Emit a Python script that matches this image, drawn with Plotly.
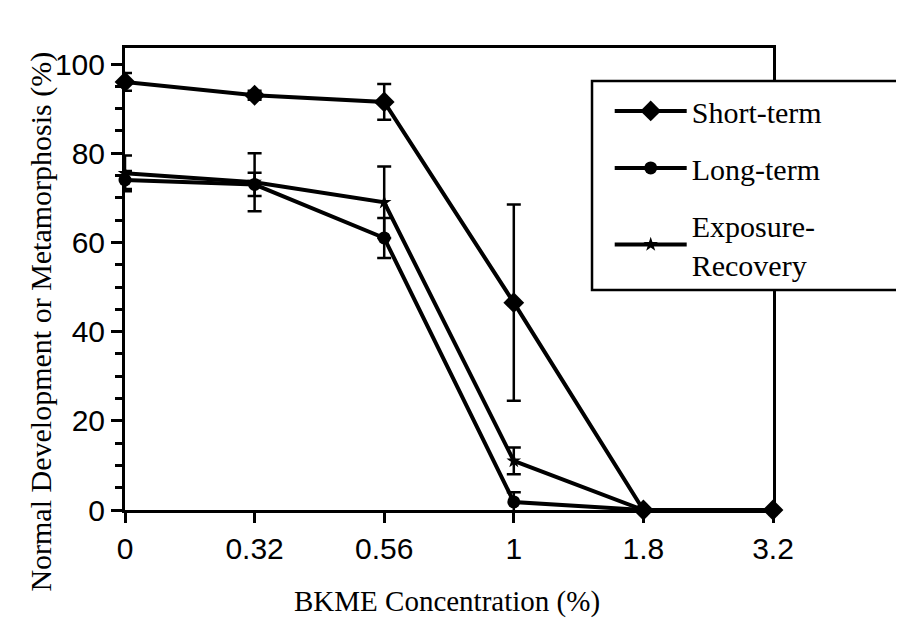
import plotly.graph_objects as go

concentrations = ["0", "0.32", "0.56", "1", "1.8", "3.2"]

short_term = [96, 93, 91.5, 46.5, 0, 0]
short_term_err = [2, 1, 4, 22, 0, 0]

long_term = [74, 73, 61, 1.8, 0, 0]
long_term_err = [2, 2.6, 4.5, 2.2, 0, 0]

exposure_recovery = [75.5, 73.5, 69, 11, 0, 0]
exposure_recovery_err = [4, 6.5, 8, 3, 0, 0]

y_ticks = [0, 20, 40, 60, 80, 100]

serif = "Liberation Serif, Times New Roman, serif"
sans = "Liberation Sans, Arial, sans-serif"

fig = go.Figure()

def add_series(name, y, err, symbol, size, group):
    fig.add_trace(go.Scatter(
        x=concentrations, y=y, name=name, mode="lines+markers",
        legendgroup=group,
        line=dict(color="black", width=4),
        marker=dict(symbol=symbol, size=size, color="black"),
        error_y=dict(type="data", array=err, visible=True, color="black",
                     thickness=2.5, width=7),
        cliponaxis=False,
    ))

add_series("Short-term", short_term, short_term_err, "diamond", 16, "a")
add_series("Long-term", long_term, long_term_err, "circle", 13, "b")
add_series("Exposure-<br>Recovery", exposure_recovery, exposure_recovery_err, "star", 11, "c")

fig.update_layout(
    width=904, height=624,
    margin=dict(l=117, r=139, t=40, b=122),
    paper_bgcolor="white", plot_bgcolor="white",
    showlegend=True,
    legend=dict(
        x=0.748, y=0.92, xanchor="left", yanchor="top",
        bgcolor="rgba(0,0,0,0)", borderwidth=0,
        font=dict(family=serif, size=30, color="black"),
        tracegroupgap=15, itemwidth=72,
    ),
    shapes=[
        dict(type="rect", xref="paper", yref="paper",
             x0=0.7207, x1=1.196, y0=0.476, y1=0.9286,
             line=dict(color="black", width=2.5), fillcolor="white", layer="above"),
    ],
    xaxis=dict(
        type="category", range=[0, 5], automargin=False,
        showline=True, linecolor="black", linewidth=3, mirror=True,
        ticks="outside", ticklen=10, tickwidth=2.5, tickcolor="black",
        showgrid=False, zeroline=False,
        tickfont=dict(family=sans, size=30, color="black"),
    ),
    yaxis=dict(
        range=[0, 103.6], automargin=False,
        tickvals=y_ticks,
        showline=True, linecolor="black", linewidth=3, mirror=True,
        ticks="outside", ticklen=11, tickwidth=2.5, tickcolor="black",
        minor=dict(dtick=5, ticks="outside", ticklen=7, tickwidth=2.5, tickcolor="black"),
        showgrid=False, zeroline=False,
        tickfont=dict(family=sans, size=30, color="black"),
    ),
    annotations=[
        dict(text="BKME Concentration (%)", xref="paper", yref="paper",
             x=0.497, y=-0.197, xanchor="center", yanchor="middle", showarrow=False,
             font=dict(family=serif, size=29, color="black")),
        dict(text="Normal Development or Metamorphosis (%)", xref="paper", yref="paper",
             x=-0.131, y=0.408, xanchor="center", yanchor="middle", showarrow=False,
             textangle=-90, font=dict(family=serif, size=30, color="black")),
    ],
)

fig.write_html("out.html")
